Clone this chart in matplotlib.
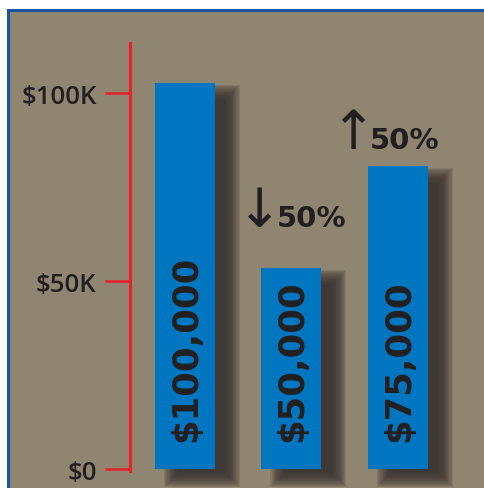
#!/usr/bin/python3

#
# plot.py: salary bar chart, down 50% then up 50%, saved as out.png
#

import matplotlib
matplotlib.use('Agg')
import matplotlib.pyplot as plt
import matplotlib.transforms as mtransforms
from matplotlib.patches import Rectangle

# data
bar_labels = ['$100,000', '$50,000', '$75,000']
bar_heights = [102700, 53500, 80600]   # drawn heights, as measured
tick_values = [0, 50000, 100000]
tick_labels = ['$0', '$50K', '$100K']
changes = ['\u2193', '\u2191']         # arrows over bar 2 and bar 3
change_text = ['50%', '50%']

# colours
BG = '#908570'
BLUE = '#0076c0'
RED = '#e8202a'
INK = '#231f20'
SHADOW = '#3a3330'

W, H = 484, 489
fig = plt.figure(figsize=(W / 100, H / 100), dpi=100)
fig.patch.set_facecolor('white')

# tan panel with blue border on top and left only
fig.patches.append(Rectangle((7.5 / W, -0.05), 1.2, (H - 10.5) / H + 0.05,
  transform=fig.transFigure, facecolor=BG, edgecolor='#1a55a0',
  linewidth=2.2, zorder=-10))

# axes placed so the red spine sits at x=130px, $0 at y=470px
ax = fig.add_axes([130 / W, (H - 472) / H, (W - 130) / W, (472 - 44) / H])
ax.set_zorder(5)
ax.patch.set_visible(False)
ax.set_xlim(-0.516, 2.808)
ax.set_ylim(-530, 113300)

x = list(range(len(bar_heights)))
width = 0.563

# soft shadows: stacked translucent rectangles offset down/right
# (pad < 0 shrinks the core, pad > 0 makes the faded rim)
px_x = 1 / 106.5
px_y = 100000 / 376
shadow_tr = mtransforms.offset_copy(ax.transData, fig, x=17, y=-10, units='dots')
n = 14
for xi, h in zip(x, bar_heights):
  for i in range(n):
    pad = 8 - i * 1.15
    ax.add_patch(Rectangle((xi - width / 2 - pad * px_x, -pad * px_y),
      width + 2 * pad * px_x, h + 2 * pad * px_y,
      transform=shadow_tr, facecolor=SHADOW, edgecolor='none',
      alpha=0.15, zorder=1, clip_on=False))

ax.bar(x, bar_heights, width=width, color=BLUE, zorder=2)

# rotated value labels inside bars
for xi, lab in zip(x, bar_labels):
  ax.text(xi + 0.01, 7400, lab, rotation=90, rotation_mode='anchor',
    ha='left', va='center', fontsize=25.5, fontweight='bold',
    family='DejaVu Sans', color=INK, zorder=3)

# change annotations
ann = [(0.70, 64600, 0.864), (1.58, 85400, 1.737)]
for (ax_x, base, tx), arrow, txt in zip(ann, changes, change_text):
  ax.text(ax_x, base, arrow, ha='center', va='baseline', fontsize=39,
    family='DejaVu Sans', color=INK)
  ax.text(tx, base, txt, ha='left', va='baseline', fontsize=21,
    fontweight='bold', family='DejaVu Sans', color=INK)

# red axis
for s in ['top', 'right', 'bottom']:
  ax.spines[s].set_visible(False)
ax.spines['left'].set_color(RED)
ax.spines['left'].set_linewidth(2.2)
ax.set_xticks([])
ax.set_yticks(tick_values)
ax.set_yticklabels(tick_labels, fontsize=18.5, family='Open Sans',
  fontweight='semibold', color=INK)
ax.tick_params(axis='y', colors=RED, length=18, width=1.8, pad=6,
  labelcolor=INK)

fig.savefig('out.png', dpi=100, facecolor=fig.get_facecolor())
